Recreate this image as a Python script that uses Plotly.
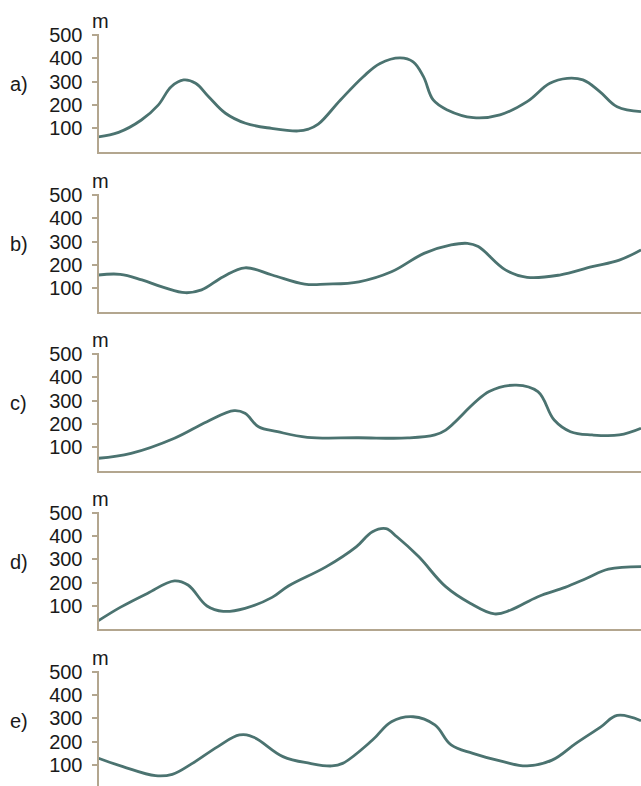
import plotly.graph_objects as go

# ---- data (distance 0-100 along profile, elevation in m) ----
panel_labels = ["a)", "b)", "c)", "d)", "e)"]
tick_vals = [100, 200, 300, 400, 500]
tick_text = ["100", "200", "300", "400", "500"]
unit_label = "m"

a_x = [0, 3.7, 7.9, 11, 13.4, 15.7, 17.9, 20.3, 23.4, 27.1, 31.9, 36.8, 38.7, 40.5, 44.6, 48.8, 51.9, 55.6, 58, 59.9, 61.7, 64.3, 69.1, 74, 79, 83.2, 86.4, 89.3, 92.4, 95.6, 100]
a_y = [64, 83, 136, 200, 279, 308, 294, 236, 165, 122, 100, 89, 97, 118, 222, 322, 379, 403, 386, 322, 222, 179, 146, 158, 215, 294, 315, 308, 258, 193, 172]

b_x = [0, 4, 8, 12, 16, 19, 23, 27, 32, 38, 42, 48, 54, 60, 65, 68, 70, 75, 79, 85, 91, 96, 100]
b_y = [157, 160, 136, 104, 81, 93, 150, 188, 157, 118, 118, 128, 171, 250, 286, 293, 279, 179, 147, 157, 193, 221, 265]

c_x = [0, 6, 14, 20, 25, 27, 29.5, 33, 38.5, 48, 57, 62, 64, 72, 77, 81, 84, 87, 91, 96, 100]
c_y = [53, 74, 139, 210, 257, 246, 188, 167, 143, 141, 140, 153, 174, 339, 367, 339, 217, 167, 153, 153, 182]

d_x = [0, 4, 9, 14, 16.5, 20, 23, 27, 32, 35, 42, 47.5, 50.5, 53, 55, 59, 64, 68.5, 73, 76, 81, 86, 90, 94, 100]
d_y = [37, 94, 154, 208, 190, 100, 77, 90, 137, 186, 269, 354, 419, 432, 397, 312, 183, 112, 66, 83, 140, 180, 219, 258, 269]

e_x = [0, 4.5, 10.5, 13.6, 17.3, 22, 26, 28.6, 34, 39, 43, 45, 50.5, 54, 58, 62, 65, 69, 74.6, 79, 83.6, 88, 92.6, 95.6, 100]
e_y = [129, 93, 54, 60, 107, 179, 229, 219, 136, 107, 96, 107, 207, 286, 307, 272, 186, 150, 114, 96, 121, 193, 264, 313, 290]

series = [(a_x, a_y), (b_x, b_y), (c_x, c_y), (d_x, d_y), (e_x, e_y)]

# ---- layout geometry ----
W, H = 641, 786
zero_px = [151.7, 311.6, 470.6, 629.3, 788.3]
ppm = 0.233  # pixels per metre
ytop = 505
x0 = 98.5 / W

LINE = "#4b7370"
AXIS = "#b3a68f"
FONT = "Liberation Sans, Arial, sans-serif"

fig = go.Figure()
layout = dict(
    template="none",
    width=W, height=H,
    margin=dict(l=0, r=0, t=0, b=0, pad=0, autoexpand=False),
    paper_bgcolor="white", plot_bgcolor="white",
    showlegend=False,
    font=dict(family=FONT, size=20, color="#1a1a1a"),
)
annotations = []
n = len(series)
for i, (xs, ys) in enumerate(series):
    k = i + 1
    xa = "x" if k == 1 else f"x{k}"
    ya = "y" if k == 1 else f"y{k}"
    z = zero_px[i]
    bottom_px = min(z, H)
    ylo = (z - bottom_px) / ppm
    top_px = z - ytop * ppm
    dom = [1 - bottom_px / H, 1 - top_px / H]

    fig.add_trace(go.Scatter(
        x=xs, y=ys, xaxis=xa, yaxis=ya, mode="lines",
        line=dict(color=LINE, width=2.8, shape="spline", smoothing=1.1),
        hoverinfo="skip",
    ))

    layout[f"xaxis{'' if k == 1 else k}"] = dict(
        domain=[x0, 1], anchor=ya, range=[0, 100], automargin=False,
        showline=z < H, linecolor=AXIS, linewidth=2,
        showgrid=False, zeroline=False, showticklabels=False, ticks="",
    )
    layout[f"yaxis{'' if k == 1 else k}"] = dict(
        domain=dom, anchor=xa, range=[ylo, ytop], automargin=False,
        showline=True, linecolor=AXIS, linewidth=2,
        showgrid=False, zeroline=False,
        tickvals=tick_vals, ticktext=tick_text,
        ticks="outside", ticklen=5, tickwidth=1.5, tickcolor=AXIS,
        ticklabelstandoff=5,
        tickfont=dict(family=FONT, size=20, color="#1a1a1a"),
    )
    # overlay axis giving the inner half of the crossing ticks
    layout[f"yaxis{n + k}"] = dict(
        overlaying=ya, anchor=xa, range=[ylo, ytop], automargin=False,
        showline=False, showgrid=False, zeroline=False,
        tickvals=tick_vals, showticklabels=False,
        ticks="inside", ticklen=5, tickwidth=1.5, tickcolor=AXIS,
    )
    annotations.append(dict(
        text=unit_label, xref="paper", yref="paper",
        x=x0 + 2 / W, y=1 - (top_px - 13) / H,
        xanchor="center", yanchor="middle", showarrow=False,
        font=dict(family=FONT, size=20, color="#1a1a1a"),
    ))
    annotations.append(dict(
        text=panel_labels[i], xref="paper", yref=ya,
        x=8 / W, y=290, xanchor="left", yanchor="middle", showarrow=False,
        font=dict(family=FONT, size=20, color="#1a1a1a"),
    ))

layout["annotations"] = annotations
fig.update_layout(**layout)
fig.write_html(
    "out.html",
    config={"displayModeBar": False},
    post_script="document.body.style.margin='0';document.body.style.overflow='hidden';",
)
